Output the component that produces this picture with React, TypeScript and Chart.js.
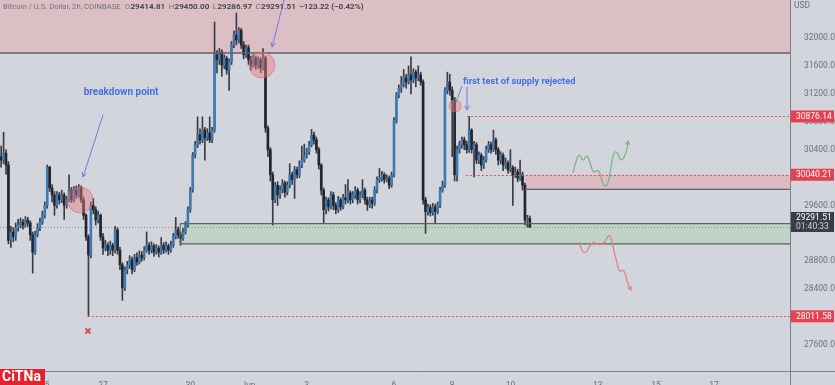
import React, { useEffect, useRef } from "react";
import { Chart, registerables } from "chart.js";
Chart.register(...registerables);

// ---- data (2h candles, day numbers counted in May: Jun 1 = 32) ----
const START_DAY = 23.5; // May 23, 12:00
const CANDLE_DAYS = 1 / 12;
const FIRST_OPEN = 30300;

const closes = [
  30250, 30350, 30180, 29100, 29220, 29150, 29280, 29320, 29360, 29320,
  29390, 29350, 29180, 28930, 29180, 29280, 29360, 29460, 29600, 30150,
  29850, 29750, 29600, 29750, 29680, 29750, 29600, 29680, 29820, 29680,
  29820, 29750, 29850, 29680, 29460, 29150, 28890, 29600, 29540, 29390,
  29460, 29150, 28990, 29030, 28960, 29030, 28960, 29250, 28960, 28750,
  28420, 28680, 28750, 28820, 28680, 28850, 28790, 28890, 28850, 28960,
  29030, 28960, 29020, 28930, 28990, 28930, 29030, 28960, 29020, 28960,
  29030, 29150, 29250, 29180, 29130, 29220, 29320, 29540, 29820, 30320,
  30470, 30610, 30540, 30680, 30570, 30640, 30540, 30680, 31760, 31690,
  31800, 31610, 31710, 31540, 31660, 31900, 32040, 31970, 32110, 31900,
  31760, 31860, 31690, 31610, 31710, 31610, 31690, 31570, 31710, 30710,
  30400, 30040, 29680, 29890, 29750, 29820, 29920, 29790, 29890, 30040,
  29970, 30110, 30040, 30180, 30250, 30320, 30370, 30470, 30610, 30540,
  30400, 30180, 29820, 29540, 29680, 29580, 29750, 29600, 29540, 29680,
  29580, 29710, 29680, 29780, 29680, 29750, 29820, 29680, 29750, 29820,
  29680, 29610, 29680, 29630, 29820, 29970, 29990, 30040, 29970, 29990,
  29890, 30040, 30820, 31180, 31280, 31330, 31430, 31370, 31470, 31400,
  31510, 31430, 31470, 31370, 29680, 29510, 29570, 29500, 29580, 29510,
  29600, 29820, 29890, 31250, 31370, 31250, 31110, 30040, 30400, 30470,
  30540, 30470, 30400, 30680, 30400, 30470, 30250, 30320, 30180, 30250,
  30400, 30470, 30400, 30540, 30400, 30250, 30320, 30180, 30210, 30110,
  30140, 30040, 30080, 29990, 30040, 29890, 29390, 29414.81, 29291.51,
];

const highs = [
  30450, 30650, 30400, 30230, 29300, 29280, 29350, 29400, 29420, 29400,
  29440, 29430, 29380, 29220, 29230, 29340, 29420, 29520, 29650, 30180,
  30160, 29900, 29800, 29800, 29790, 29820, 29780, 29730, 30040, 29860,
  29870, 29880, 29900, 29880, 29720, 29480, 29180, 29650, 29700, 29580,
  29520, 29480, 29200, 29100, 29070, 29090, 29060, 29300, 29280, 29000,
  28780, 28720, 28800, 28880, 28860, 28900, 28920, 28950, 28940, 29010,
  29220, 29070, 29080, 29050, 29040, 29020, 29140, 29070, 29080, 29050,
  29090, 29200, 29430, 29290, 29220, 29270, 29370, 29580, 29860, 30360,
  30520, 30870, 30700, 30870, 30720, 30700, 30870, 30720, 32230, 31820,
  31850, 31830, 31760, 31740, 31700, 31950, 32100, 32358, 32150, 32140,
  31950, 31900, 31900, 31740, 31760, 31740, 31730, 31720, 31850, 31740,
  30740, 30430, 30080, 29930, 29940, 29880, 29970, 29950, 29940, 30200,
  30080, 30160, 30150, 30240, 30450, 30480, 30420, 30520, 30690, 30650,
  30580, 30430, 30200, 29850, 29720, 29710, 29800, 29790, 29640, 29730,
  29710, 29760, 29900, 29970, 29810, 29800, 29870, 29850, 29800, 29970,
  29850, 29720, 29720, 29720, 29870, 30010, 30130, 30090, 30070, 30040,
  30020, 30080, 30860, 31220, 31330, 31450, 31550, 31480, 31600, 31730,
  31560, 31540, 31600, 31510, 31400, 29720, 29620, 29610, 29630, 29620,
  29650, 29860, 29950, 31290, 31510, 31480, 31300, 31150, 30450, 30520,
  30580, 30580, 30520, 30876.14, 30700, 30520, 30500, 30370, 30350, 30300,
  30450, 30520, 30510, 30680, 30570, 30430, 30370, 30350, 30280, 30240,
  30400, 30170, 30150, 30120, 30250, 30080, 29920, 29460, 29450,
];

const lows = [
  30150, 30200, 30050, 29050, 29000, 29080, 29100, 29230, 29280, 29260,
  29290, 29300, 29100, 28630, 28900, 29150, 29240, 29330, 29420, 29560,
  29800, 29650, 29460, 29560, 29620, 29640, 29400, 29560, 29650, 29640,
  29650, 29700, 29720, 29640, 29400, 29100, 28011.58, 28850, 29480, 29320,
  29350, 29100, 28900, 28950, 28880, 28900, 28880, 28920, 28900, 28680,
  28240, 28380, 28620, 28700, 28620, 28650, 28740, 28760, 28800, 28820,
  28930, 28900, 28920, 28870, 28900, 28860, 28900, 28910, 28930, 28900,
  28930, 29000, 29120, 29130, 29030, 29100, 29190, 29290, 29500, 29790,
  30280, 30430, 30480, 30500, 30250, 30530, 30500, 30500, 30650, 31500,
  31620, 31450, 31560, 31480, 31250, 31620, 31860, 31900, 31930, 31850,
  31700, 31720, 31620, 31540, 31580, 31550, 31570, 31500, 31540, 30650,
  30300, 29950, 29320, 29640, 29600, 29700, 29780, 29720, 29750, 29850,
  29900, 29700, 29990, 30000, 30140, 30220, 30280, 30330, 30440, 30480,
  30350, 30120, 29750, 29350, 29480, 29520, 29550, 29540, 29480, 29500,
  29530, 29550, 29620, 29640, 29620, 29640, 29700, 29620, 29640, 29710,
  29620, 29530, 29570, 29560, 29600, 29780, 29930, 29950, 29920, 29940,
  29840, 29860, 30010, 30780, 31140, 31220, 31300, 31280, 31340, 31200,
  31360, 31300, 31390, 31320, 29620, 29200, 29460, 29450, 29460, 29350,
  29480, 29570, 29790, 29860, 31200, 31180, 30300, 29950, 29950, 30350,
  30420, 30400, 30350, 30360, 30350, 30010, 30200, 30200, 30100, 30130,
  30220, 30360, 30350, 30370, 30330, 30180, 30200, 30100, 30130, 30060,
  30080, 29600, 30000, 29940, 29960, 29820, 29320, 29290, 29286.97,
];

const opens = closes.map((c, i) => (i === 0 ? FIRST_OPEN : closes[i - 1]));

const dayTicks = [25, 27, 30, 32, 34, 37, 39, 41, 44, 46, 48];
const dayTickLabels = ["25", "27", "30", "Jun", "3", "6", "8", "10", "13", "15", "17"];
const priceTicks = [27600, 28400, 28800, 29600, 30400, 30800, 31200, 31600, 32000];

// levels & zones (day, price)
const redLevels = [30876.14, 30040.21, 28011.58];
const redLevelStart = [39.51, 39.47, 26.48];
const lastPrice = 29291.51;
const countdown = "01:40:33";
const topZone = [20, 55, 31785, 34000];
const supplyZone = [41.5, 55, 29830, 30040.21];
const demandZone = [29.65, 55, 29050, 29340];

const greenDays = [43.15, 43.29, 43.39, 43.49, 43.63, 43.74, 43.84, 43.98, 44.08, 44.18, 44.32, 44.42, 44.53, 44.66, 44.77, 44.87, 45.01, 45.04];
const greenPrices = [30066, 30295, 30338, 30223, 30338, 30209, 30066, 30109, 30066, 29894, 29865, 30037, 30352, 30381, 30252, 30252, 30395, 30524];
const redDays = [43.36, 43.46, 43.6, 43.7, 43.84, 43.98, 44.11, 44.25, 44.39, 44.49, 44.56, 44.66, 44.73, 44.84, 44.94, 45.01, 45.14];
const redPrices = [29077, 28934, 28919, 29005, 29077, 29048, 29034, 29077, 29192, 29106, 28934, 28791, 28647, 28676, 28647, 28504, 28389];

const X_MIN = 23.4605;
const X_MAX = 50.608;
const Y_MIN = 27228;
const Y_MAX = 32544.5;

const BG = "#d2d5dc";
const UP = "#4179b2";
const DOWN = "#22252c";
const WICK = "#3a3d45";
const FONT = "Roboto, 'Liberation Sans', sans-serif";

function smoothPath(ctx: CanvasRenderingContext2D, pts: number[][]) {
  ctx.beginPath();
  ctx.moveTo(pts[0][0], pts[0][1]);
  for (let i = 1; i < pts.length - 1; i++) {
    const mx = (pts[i][0] + pts[i + 1][0]) / 2;
    const my = (pts[i][1] + pts[i + 1][1]) / 2;
    ctx.quadraticCurveTo(pts[i][0], pts[i][1], mx, my);
  }
  const l = pts[pts.length - 1];
  ctx.lineTo(l[0], l[1]);
  ctx.stroke();
}

function arrowHead(ctx: CanvasRenderingContext2D, fx: number, fy: number, tx: number, ty: number, size: number) {
  const a = Math.atan2(ty - fy, tx - fx);
  ctx.beginPath();
  ctx.moveTo(tx - size * Math.cos(a - 0.5), ty - size * Math.sin(a - 0.5));
  ctx.lineTo(tx, ty);
  ctx.lineTo(tx - size * Math.cos(a + 0.5), ty - size * Math.sin(a + 0.5));
  ctx.stroke();
}

const annotPlugin = {
  id: "annot",
  beforeDraw(chart: any) {
    const ctx = chart.ctx;
    ctx.save();
    ctx.fillStyle = BG;
    ctx.fillRect(0, 0, chart.width, chart.height);
    ctx.restore();
  },
  beforeDatasetsDraw(chart: any) {
    const { ctx, chartArea: ca, scales } = chart;
    const X = (d: number) => scales.x.getPixelForValue(d);
    const Y = (p: number) => scales.y.getPixelForValue(p);
    ctx.save();
    ctx.beginPath();
    ctx.rect(ca.left, ca.top, ca.right - ca.left, ca.bottom - ca.top);
    ctx.clip();
    const zone = (z: number[], fill: string) => {
      const x0 = X(z[0]), x1 = X(z[1]), y0 = Y(z[3]), y1 = Y(z[2]);
      ctx.fillStyle = fill;
      ctx.fillRect(x0, y0, x1 - x0, y1 - y0);
    };
    zone(topZone, "#dcbec5");
    zone(supplyZone, "#dcbcc3");
    zone(demandZone, "#bfd4c5");
    // current price dotted line
    ctx.strokeStyle = "#8a8d95";
    ctx.lineWidth = 1;
    ctx.setLineDash([1, 2]);
    ctx.beginPath();
    ctx.moveTo(ca.left, Math.round(Y(lastPrice)) + 0.5);
    ctx.lineTo(ca.right, Math.round(Y(lastPrice)) + 0.5);
    ctx.stroke();
    ctx.setLineDash([]);
    ctx.restore();
  },
  afterDraw(chart: any) {
    const { ctx, chartArea: ca, scales } = chart;
    const X = (d: number) => scales.x.getPixelForValue(d);
    const Y = (p: number) => scales.y.getPixelForValue(p);
    ctx.save();
    ctx.beginPath();
    ctx.rect(ca.left, ca.top, ca.right - ca.left, ca.bottom - ca.top);
    ctx.clip();
    // zone borders
    ctx.strokeStyle = "#5e6169";
    ctx.lineWidth = 1.3;
    const hline = (d0: number, p: number) => {
      ctx.beginPath();
      ctx.moveTo(X(d0), Y(p));
      ctx.lineTo(ca.right, Y(p));
      ctx.stroke();
    };
    hline(topZone[0], topZone[2]);
    hline(supplyZone[0], supplyZone[2]);
    hline(demandZone[0], demandZone[2]);
    hline(demandZone[0], demandZone[3]);
    ctx.lineWidth = 1;
    ctx.beginPath();
    ctx.moveTo(X(demandZone[0]), Y(demandZone[2]));
    ctx.lineTo(X(demandZone[0]), Y(demandZone[3]));
    ctx.stroke();
    // red dotted levels
    ctx.strokeStyle = "#e0505c";
    ctx.setLineDash([2, 2]);
    redLevels.forEach((p, i) => {
      ctx.beginPath();
      ctx.moveTo(X(redLevelStart[i]), Math.round(Y(p)) + 0.5);
      ctx.lineTo(ca.right, Math.round(Y(p)) + 0.5);
      ctx.stroke();
    });
    ctx.setLineDash([]);

    // circles
    ctx.fillStyle = "rgba(236, 120, 130, 0.45)";
    ctx.strokeStyle = "rgba(220, 90, 100, 0.5)";
    const circle = (d: number, p: number, r: number) => {
      ctx.beginPath();
      ctx.arc(X(d), Y(p), r, 0, Math.PI * 2);
      ctx.fill();
      ctx.stroke();
    };
    circle(26.21, 29679, 13);
    circle(32.46, 31613, 13);
    circle(39.1, 31026, 6);

    // blue arrows
    ctx.strokeStyle = "#6a7fdc";
    ctx.lineWidth = 1;
    const arrow = (d0: number, p0: number, d1: number, p1: number, head: boolean) => {
      ctx.beginPath();
      ctx.moveTo(X(d0), Y(p0));
      ctx.lineTo(X(d1), Y(p1));
      ctx.stroke();
      if (head) arrowHead(ctx, X(d0), Y(p0), X(d1), Y(p1), 5);
    };
    arrow(27.0, 30897, 26.313, 30008, true);
    arrow(33.22, 32545, 32.81, 31871, true);
    arrow(39.34, 31312, 39.13, 31083, false);
    arrow(39.51, 31298, 39.51, 30968, true);

    // texts
    ctx.fillStyle = "#4470e2";
    ctx.font = `bold 10px ${FONT}`;
    ctx.textBaseline = "middle";
    ctx.textAlign = "center";
    ctx.fillText("breakdown point", X(27.62), Y(31212));
    ctx.textAlign = "left";
    ctx.font = `bold 9.3px ${FONT}`;
    ctx.fillText("first test of supply rejected", X(39.37), Y(31370));

    // squiggles
    ctx.lineWidth = 1.2;
    ctx.strokeStyle = "#78b27c";
    const gp = greenDays.map((d, i) => [X(d), Y(greenPrices[i])]);
    smoothPath(ctx, gp);
    arrowHead(ctx, gp[gp.length - 2][0], gp[gp.length - 2][1] + 4, gp[gp.length - 1][0], gp[gp.length - 1][1], 4);
    ctx.strokeStyle = "#e87a82";
    const rp = redDays.map((d, i) => [X(d), Y(redPrices[i])]);
    smoothPath(ctx, rp);
    arrowHead(ctx, rp[rp.length - 2][0], rp[rp.length - 2][1], rp[rp.length - 1][0], rp[rp.length - 1][1], 4);

    // red x
    ctx.strokeStyle = "#e04a5a";
    ctx.lineWidth = 2;
    const xx = X(26.48), xy = Y(27801);
    ctx.beginPath();
    ctx.moveTo(xx - 2.5, xy - 2.5);
    ctx.lineTo(xx + 2.5, xy + 2.5);
    ctx.moveTo(xx + 2.5, xy - 2.5);
    ctx.lineTo(xx - 2.5, xy + 2.5);
    ctx.stroke();
    ctx.restore();

    // axis lines
    ctx.save();
    ctx.strokeStyle = "#7d8089";
    ctx.lineWidth = 1;
    ctx.beginPath();
    ctx.moveTo(0, Math.round(ca.bottom) + 0.5);
    ctx.lineTo(chart.width, Math.round(ca.bottom) + 0.5);
    ctx.moveTo(Math.round(ca.right) + 0.5, 0);
    ctx.lineTo(Math.round(ca.right) + 0.5, chart.height);
    ctx.stroke();

    // price labels
    ctx.font = `8.5px ${FONT}`;
    ctx.textAlign = "left";
    ctx.textBaseline = "middle";
    redLevels.forEach((p) => {
      const y = Y(p);
      ctx.fillStyle = "#e8404e";
      ctx.fillRect(ca.right + 1, y - 6, 43, 12);
      ctx.fillStyle = "#ffffff";
      ctx.fillText(p.toFixed(2), ca.right + 6, y + 0.5);
    });
    const ly = Y(lastPrice);
    ctx.fillStyle = "#3a3d47";
    ctx.fillRect(ca.right + 1, ly - 15, 43, 20);
    ctx.fillStyle = "#ffffff";
    ctx.fillText(lastPrice.toFixed(2), ca.right + 6, ly - 9);
    ctx.fillStyle = "#c9ccd3";
    ctx.fillText(countdown, ca.right + 6, ly);
    ctx.fillStyle = "#6d7079";
    ctx.fillText("USD", ca.right + 4, 6);

    // header
    ctx.textBaseline = "middle";
    let hx = 3;
    const hy = 7;
    const part = (t: string, color: string, font: string, gap: number) => {
      ctx.font = font;
      ctx.fillStyle = color;
      ctx.fillText(t, hx, hy);
      hx += ctx.measureText(t).width + gap;
    };
    const lf = `7.7px ${FONT}`;
    const vf = `600 8.1px ${FONT}`;
    part("Bitcoin / U.S. Dollar, 2h, COINBASE", "#6f727c", lf, 4);
    part("O", "#6f727c", lf, 0.5);
    part("29414.81", "#3a3d46", vf, 3.5);
    part("H", "#6f727c", lf, 0.5);
    part("29450.00", "#3a3d46", vf, 3.5);
    part("L", "#6f727c", lf, 0.5);
    part("29286.97", "#3a3d46", vf, 3.5);
    part("C", "#6f727c", lf, 0.5);
    part("29291.51", "#3a3d46", vf, 3.5);
    part("\u2212123.22 (\u22120.42%)", "#3a3d46", vf, 0);

    // logo
    ctx.fillStyle = "#e3222c";
    ctx.fillRect(0, 369, 45, 16);
    ctx.fillStyle = "#ffffff";
    ctx.font = `bold 14px ${FONT}`;
    ctx.textAlign = "left";
    ctx.fillText("CiTNa", 2, 377.5);
    ctx.restore();
  },
};

export default function App() {
  const ref = useRef<HTMLCanvasElement>(null);
  useEffect(() => {
    const canvas = ref.current!;
    const xs = closes.map((_, i) => START_DAY + i * CANDLE_DAYS);
    const bodies = closes.map((c, i) => ({ x: xs[i], y: [opens[i], c] }));
    const wicks = closes.map((_, i) => ({ x: xs[i], y: [lows[i], highs[i]] }));
    const chart = new Chart(canvas, {
      type: "bar",
      data: {
        datasets: [
          {
            data: bodies as any,
            backgroundColor: closes.map((c, i) => (c >= opens[i] ? UP : DOWN)),
            barThickness: 2,
            grouped: false,
            minBarLength: 1,
          } as any,
          {
            data: wicks as any,
            backgroundColor: WICK,
            barThickness: 1,
            grouped: false,
          } as any,
        ],
      },
      options: {
        responsive: false,
        animation: false,
        devicePixelRatio: 1,
        layout: { padding: 0 },
        plugins: { legend: { display: false }, tooltip: { enabled: false } },
        scales: {
          x: {
            type: "linear",
            position: "bottom",
            min: X_MIN,
            max: X_MAX,
            offset: false,
            grid: { display: false },
            border: { display: false },
            afterBuildTicks: (s: any) => {
              s.ticks = dayTicks.map((v) => ({ value: v }));
            },
            afterFit: (s: any) => {
              s.height = 14;
              s.paddingLeft = 0;
              s.paddingRight = 0;
            },
            ticks: {
              autoSkip: false,
              maxRotation: 0,
              padding: 2,
              color: "#6d7079",
              font: { family: FONT, size: 8.5 },
              callback: (v: any) => dayTickLabels[dayTicks.indexOf(Number(v))],
            },
          },
          y: {
            type: "linear",
            position: "right",
            min: Y_MIN,
            max: Y_MAX,
            beginAtZero: false,
            grid: { display: false },
            border: { display: false },
            afterBuildTicks: (s: any) => {
              s.ticks = priceTicks.map((v) => ({ value: v }));
            },
            afterFit: (s: any) => {
              s.width = 45;
              s.paddingTop = 0;
              s.paddingBottom = 0;
            },
            ticks: {
              padding: 6,
              color: "#6d7079",
              font: { family: FONT, size: 8.5 },
              callback: (v: any) => Number(v).toFixed(2),
            },
          },
        },
      } as any,
      plugins: [annotPlugin],
    });
    return () => chart.destroy();
  }, []);
  return (
    <canvas
      ref={ref}
      width={835}
      height={385}
      style={{ position: "fixed", left: 0, top: 0, width: 835, height: 385 }}
    />
  );
}
